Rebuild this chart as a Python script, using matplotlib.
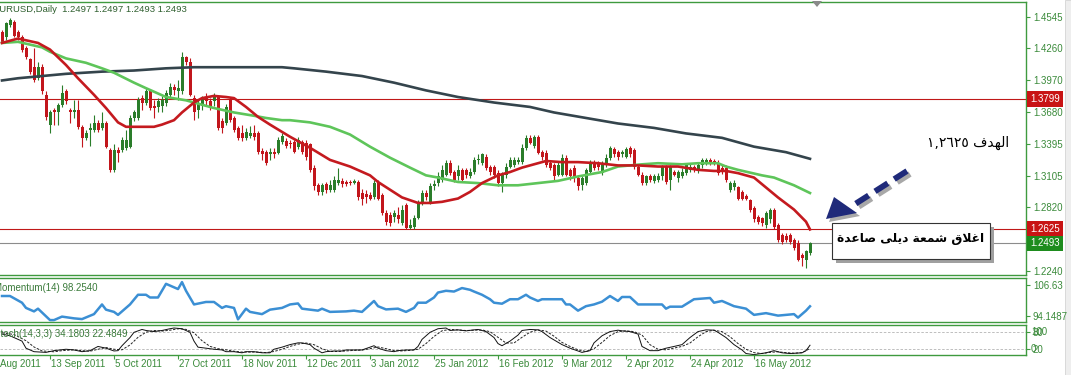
import numpy as np
import matplotlib
matplotlib.use('Agg')
import matplotlib.pyplot as plt
import matplotlib.transforms as mtransforms
from matplotlib.patches import Rectangle, Polygon
from matplotlib.lines import Line2D

plt.rcParams['font.family'] = ['Liberation Sans', 'DejaVu Sans']

# ---- EURUSD daily candles (one per bar) ----
opens = [1.441, 1.436, 1.447, 1.450, 1.441, 1.436, 1.426, 1.416, 1.409, 1.399,
         1.409, 1.384, 1.357, 1.370, 1.368, 1.375, 1.387, 1.370, 1.368, 1.370,
         1.355, 1.345, 1.352, 1.352, 1.358, 1.354, 1.358, 1.334, 1.316, 1.334,
         1.334, 1.336, 1.337, 1.363, 1.363, 1.381, 1.377, 1.387, 1.374, 1.373,
         1.374, 1.377, 1.384, 1.391, 1.387, 1.387, 1.418, 1.414, 1.381, 1.370,
         1.374, 1.382, 1.378, 1.378, 1.382, 1.360, 1.358, 1.379, 1.363, 1.354,
         1.349, 1.345, 1.347, 1.349, 1.349, 1.333, 1.332, 1.330, 1.332, 1.331,
         1.341, 1.342, 1.340, 1.341, 1.337, 1.341, 1.340, 1.339, 1.318, 1.302,
         1.296, 1.303, 1.298, 1.298, 1.304, 1.306, 1.305, 1.305, 1.304, 1.305,
         1.295, 1.294, 1.293, 1.291, 1.304, 1.293, 1.277, 1.275, 1.273, 1.275,
         1.268, 1.284, 1.263, 1.264, 1.272, 1.286, 1.295, 1.287, 1.301, 1.304,
         1.307, 1.311, 1.322, 1.314, 1.310, 1.316, 1.316, 1.310, 1.314, 1.325,
         1.322, 1.328, 1.319, 1.319, 1.313, 1.304, 1.311, 1.319, 1.320, 1.323,
         1.323, 1.336, 1.345, 1.338, 1.346, 1.332, 1.331, 1.322, 1.320, 1.311,
         1.311, 1.327, 1.316, 1.318, 1.309, 1.302, 1.304, 1.314, 1.323, 1.322,
         1.313, 1.320, 1.327, 1.335, 1.332, 1.330, 1.328, 1.336, 1.334, 1.319,
         1.311, 1.304, 1.310, 1.306, 1.307, 1.310, 1.319, 1.307, 1.314, 1.309,
         1.310, 1.313, 1.316, 1.319, 1.315, 1.320, 1.323, 1.325, 1.324, 1.322,
         1.318, 1.318, 1.298, 1.300, 1.300, 1.296, 1.292, 1.289, 1.281, 1.273,
         1.272, 1.266, 1.271, 1.280, 1.266, 1.257, 1.256, 1.257, 1.252, 1.250,
         1.239, 1.234, 1.241]
closes = [1.432, 1.449, 1.452, 1.437, 1.436, 1.425, 1.418, 1.405, 1.397, 1.409,
          1.387, 1.364, 1.368, 1.368, 1.375, 1.386, 1.378, 1.368, 1.370, 1.355,
          1.345, 1.349, 1.354, 1.358, 1.352, 1.358, 1.337, 1.316, 1.334, 1.331,
          1.343, 1.343, 1.363, 1.368, 1.379, 1.377, 1.387, 1.372, 1.372, 1.378,
          1.379, 1.386, 1.391, 1.388, 1.390, 1.418, 1.414, 1.384, 1.368, 1.377,
          1.379, 1.378, 1.374, 1.382, 1.354, 1.354, 1.373, 1.361, 1.352, 1.345,
          1.345, 1.350, 1.349, 1.346, 1.332, 1.330, 1.322, 1.332, 1.330, 1.343,
          1.347, 1.338, 1.339, 1.332, 1.343, 1.332, 1.328, 1.316, 1.301, 1.296,
          1.302, 1.298, 1.302, 1.307, 1.307, 1.303, 1.303, 1.304, 1.306, 1.291,
          1.290, 1.291, 1.290, 1.304, 1.290, 1.277, 1.269, 1.268, 1.277, 1.271,
          1.280, 1.263, 1.266, 1.272, 1.286, 1.295, 1.291, 1.301, 1.303, 1.310,
          1.316, 1.322, 1.313, 1.307, 1.316, 1.307, 1.311, 1.314, 1.325, 1.326,
          1.330, 1.318, 1.314, 1.311, 1.304, 1.311, 1.319, 1.325, 1.325, 1.325,
          1.336, 1.345, 1.340, 1.346, 1.331, 1.328, 1.320, 1.318, 1.310, 1.320,
          1.327, 1.311, 1.310, 1.309, 1.301, 1.309, 1.316, 1.323, 1.318, 1.319,
          1.322, 1.327, 1.336, 1.330, 1.328, 1.332, 1.335, 1.330, 1.319, 1.311,
          1.304, 1.310, 1.307, 1.310, 1.310, 1.319, 1.305, 1.319, 1.311, 1.314,
          1.314, 1.320, 1.319, 1.316, 1.320, 1.325, 1.325, 1.322, 1.321, 1.313,
          1.314, 1.307, 1.304, 1.304, 1.290, 1.290, 1.290, 1.280, 1.271, 1.269,
          1.268, 1.277, 1.280, 1.264, 1.252, 1.251, 1.252, 1.251, 1.245, 1.234,
          1.236, 1.242, 1.2493]
highs = [1.443, 1.450, 1.454, 1.452, 1.443, 1.438, 1.428, 1.417, 1.426, 1.414,
         1.412, 1.387, 1.370, 1.372, 1.377, 1.393, 1.389, 1.372, 1.379, 1.379,
         1.357, 1.352, 1.358, 1.366, 1.361, 1.368, 1.360, 1.336, 1.339, 1.337,
         1.346, 1.352, 1.366, 1.370, 1.382, 1.384, 1.390, 1.388, 1.379, 1.381,
         1.383, 1.388, 1.395, 1.394, 1.397, 1.423, 1.419, 1.417, 1.384, 1.379,
         1.383, 1.386, 1.381, 1.386, 1.384, 1.363, 1.376, 1.382, 1.365, 1.356,
         1.357, 1.354, 1.356, 1.357, 1.351, 1.336, 1.334, 1.336, 1.336, 1.346,
         1.349, 1.345, 1.343, 1.343, 1.346, 1.343, 1.343, 1.340, 1.320, 1.304,
         1.304, 1.305, 1.307, 1.310, 1.318, 1.309, 1.307, 1.307, 1.308, 1.307,
         1.299, 1.298, 1.296, 1.307, 1.307, 1.295, 1.280, 1.278, 1.280, 1.282,
         1.284, 1.286, 1.271, 1.275, 1.289, 1.298, 1.298, 1.304, 1.307, 1.314,
         1.320, 1.325, 1.325, 1.316, 1.320, 1.318, 1.318, 1.318, 1.328, 1.330,
         1.331, 1.330, 1.320, 1.320, 1.316, 1.314, 1.322, 1.328, 1.328, 1.328,
         1.339, 1.348, 1.348, 1.348, 1.348, 1.334, 1.334, 1.325, 1.322, 1.323,
         1.330, 1.329, 1.318, 1.320, 1.311, 1.310, 1.318, 1.325, 1.325, 1.324,
         1.324, 1.330, 1.338, 1.337, 1.334, 1.334, 1.337, 1.338, 1.336, 1.320,
         1.314, 1.311, 1.312, 1.312, 1.313, 1.320, 1.320, 1.320, 1.316, 1.316,
         1.318, 1.322, 1.322, 1.320, 1.322, 1.327, 1.327, 1.327, 1.326, 1.325,
         1.320, 1.320, 1.306, 1.307, 1.301, 1.298, 1.294, 1.290, 1.283, 1.275,
         1.273, 1.279, 1.281, 1.281, 1.268, 1.259, 1.259, 1.259, 1.254, 1.252,
         1.241, 1.243, 1.251]
lows = [1.431, 1.434, 1.445, 1.436, 1.434, 1.423, 1.416, 1.403, 1.396, 1.397,
        1.385, 1.361, 1.349, 1.357, 1.357, 1.373, 1.376, 1.358, 1.363, 1.353,
        1.337, 1.343, 1.338, 1.350, 1.350, 1.352, 1.336, 1.314, 1.314, 1.323,
        1.332, 1.334, 1.336, 1.360, 1.361, 1.370, 1.375, 1.370, 1.363, 1.368,
        1.368, 1.374, 1.382, 1.384, 1.379, 1.385, 1.411, 1.383, 1.361, 1.363,
        1.370, 1.374, 1.370, 1.374, 1.352, 1.349, 1.357, 1.359, 1.350, 1.343,
        1.342, 1.343, 1.345, 1.343, 1.330, 1.325, 1.320, 1.325, 1.327, 1.330,
        1.339, 1.336, 1.336, 1.331, 1.335, 1.330, 1.325, 1.314, 1.298, 1.293,
        1.293, 1.295, 1.296, 1.296, 1.302, 1.300, 1.301, 1.302, 1.303, 1.289,
        1.284, 1.286, 1.289, 1.290, 1.289, 1.275, 1.266, 1.265, 1.269, 1.268,
        1.266, 1.262, 1.262, 1.262, 1.271, 1.284, 1.289, 1.285, 1.298, 1.301,
        1.305, 1.310, 1.311, 1.305, 1.307, 1.305, 1.309, 1.309, 1.312, 1.321,
        1.320, 1.316, 1.311, 1.309, 1.301, 1.296, 1.309, 1.318, 1.319, 1.321,
        1.321, 1.334, 1.339, 1.336, 1.330, 1.325, 1.319, 1.316, 1.307, 1.310,
        1.310, 1.310, 1.307, 1.305, 1.298, 1.298, 1.302, 1.312, 1.316, 1.316,
        1.311, 1.319, 1.325, 1.328, 1.325, 1.328, 1.327, 1.328, 1.317, 1.310,
        1.302, 1.302, 1.305, 1.304, 1.305, 1.307, 1.303, 1.298, 1.310, 1.305,
        1.309, 1.311, 1.314, 1.314, 1.313, 1.318, 1.320, 1.320, 1.320, 1.311,
        1.312, 1.305, 1.296, 1.298, 1.289, 1.289, 1.289, 1.278, 1.269, 1.267,
        1.265, 1.263, 1.268, 1.262, 1.251, 1.249, 1.251, 1.249, 1.243, 1.233,
        1.229, 1.227, 1.239]

# moving averages, read at sample bars
red_idx = [0, 4, 9, 12, 16, 19, 23, 26, 29, 31, 34, 38, 40, 43, 45, 48, 50, 53, 56, 58,
           61, 64, 67, 72, 77, 82, 87, 92, 94, 97, 100, 104, 107, 110, 114, 117, 120, 124,
           127, 130, 134, 136, 140, 144, 149, 154, 159, 164, 169, 174, 178, 181, 184, 188,
           191, 194, 198, 201, 202]
red_ma = [1.431, 1.435, 1.431, 1.425, 1.411, 1.399, 1.384, 1.372, 1.359, 1.355,
          1.355, 1.355, 1.357, 1.361, 1.368, 1.377, 1.381, 1.383, 1.382, 1.381,
          1.373, 1.364, 1.357, 1.346, 1.336, 1.325, 1.319, 1.311, 1.305, 1.298,
          1.291, 1.286, 1.286, 1.287, 1.290, 1.296, 1.304, 1.311, 1.314, 1.318,
          1.322, 1.324, 1.323, 1.323, 1.322, 1.320, 1.320, 1.319, 1.319, 1.316,
          1.315, 1.315, 1.313, 1.309, 1.300, 1.291, 1.280, 1.269, 1.262]
green_idx = [0, 4, 10, 12, 16, 21, 25, 28, 33, 36, 41, 46, 50, 53, 58, 63, 66, 70, 72, 77,
             82, 87, 92, 97, 102, 106, 109, 114, 119, 124, 129, 134, 139, 144, 150, 154,
             160, 164, 170, 174, 179, 181, 184, 190, 193, 198, 202]
green_ma = [1.431, 1.432, 1.427, 1.423, 1.417, 1.413, 1.408, 1.404, 1.395, 1.390,
            1.382, 1.379, 1.375, 1.372, 1.368, 1.365, 1.363, 1.361, 1.361, 1.359,
            1.355, 1.348, 1.337, 1.327, 1.318, 1.311, 1.309, 1.305, 1.304, 1.302,
            1.302, 1.304, 1.306, 1.310, 1.314, 1.319, 1.321, 1.322, 1.321, 1.322,
            1.322, 1.319, 1.316, 1.311, 1.309, 1.302, 1.295]
dark_idx = [0, 4, 10, 16, 25, 33, 41, 48, 58, 64, 70, 73, 81, 90, 98, 106, 114, 123, 132,
            138, 146, 154, 163, 171, 180, 188, 196, 202]
dark_ma = [1.397, 1.399, 1.401, 1.403, 1.405, 1.406, 1.408, 1.409, 1.409, 1.409,
           1.409, 1.408, 1.405, 1.401, 1.395, 1.388, 1.382, 1.377, 1.373, 1.368,
           1.363, 1.358, 1.354, 1.349, 1.345, 1.337, 1.332, 1.326]

# Momentum(14)
mom_idx = [0, 2, 5, 6, 8, 9, 12, 13, 15, 18,
           20, 23, 25, 26, 28, 29, 32, 34, 36, 37,
           39, 41, 43, 44, 45, 46, 48, 51, 53, 55,
           56, 58, 59, 61, 62, 65, 67, 70, 72, 74,
           75, 79, 80, 82, 86, 88, 90, 93, 94, 96,
           99, 101, 103, 104, 106, 108, 109, 111, 113, 115,
           117, 118, 120, 122, 123, 125, 127, 129, 131, 132,
           134, 135, 140, 141, 142, 144, 146, 148, 150, 152,
           154, 155, 157, 159, 161, 165, 166, 167, 170, 173,
           177, 178, 180, 182, 183, 186, 188, 191, 194, 198,
           199, 201, 202]
mom_vals = [102.4, 102.4, 99.7, 97.6, 96.2, 97.3, 92.7, 92.7, 94.1, 93.4,
            93.1, 95.1, 99.0, 96.9, 96.0, 94.8, 99.0, 102.9, 102.9, 101.8,
            101.8, 107.3, 105.9, 105.2, 108.0, 104.5, 99.0, 100.0, 100.0, 97.6,
            98.3, 97.6, 93.0, 97.3, 96.0, 95.1, 96.9, 97.6, 99.0, 99.4,
            97.3, 96.5, 97.3, 96.0, 96.2, 96.5, 96.0, 100.4, 98.3, 97.0,
            97.3, 96.0, 97.6, 99.7, 99.7, 101.8, 103.8, 104.5, 104.2, 105.6,
            104.9, 104.2, 102.9, 101.1, 99.7, 99.3, 101.1, 101.1, 102.9, 101.8,
            100.4, 101.1, 101.1, 99.0, 99.0, 96.5, 98.3, 99.0, 100.1, 102.4,
            100.4, 102.0, 102.0, 99.0, 99.0, 99.0, 97.3, 98.1, 98.1, 101.1,
            101.6, 99.7, 100.4, 99.0, 98.3, 97.3, 94.8, 95.5, 94.5, 95.1,
            93.7, 96.5, 98.25]

# Stochastic(14,3,3): main and signal
st_idx = [0, 2, 5, 6, 8, 11, 13, 16, 18, 20,
          22, 24, 26, 28, 29, 30, 32, 33, 35, 36,
          38, 40, 42, 43, 45, 47, 48, 49, 51, 53,
          55, 56, 58, 60, 61, 63, 65, 67, 68, 70,
          72, 74, 75, 77, 78, 80, 81, 83, 85, 86,
          88, 90, 92, 93, 94, 96, 98, 99, 101, 103,
          104, 105, 107, 109, 111, 112, 114, 116, 118, 119,
          121, 123, 124, 125, 127, 129, 130, 132, 134, 135,
          137, 140, 142, 145, 147, 148, 150, 152, 154, 155,
          157, 159, 160, 162, 164, 166, 168, 170, 172, 174,
          176, 178, 179, 181, 183, 185, 186, 188, 191, 193,
          195, 197, 200, 201, 202]
st_main = [73.5, 67.4, 48.6, 23.7, 11.4, 8.9, 15.0, 20.0, 17.5, 11.4,
           15.0, 29.8, 23.7, 13.9, 15.0, 32.4, 61.2, 79.6, 89.7, 86.1,
           82.2, 86.1, 92.3, 94.8, 92.3, 79.6, 48.6, 27.3, 23.7, 20.0,
           17.5, 11.4, 11.4, 7.4, 11.4, 11.4, 7.4, 7.4, 20.0, 27.3,
           36.3, 42.5, 42.5, 36.3, 23.7, 7.4, 11.4, 13.9, 13.9, 17.5,
           17.5, 17.5, 27.3, 32.4, 23.7, 15.0, 11.4, 15.0, 17.5, 17.5,
           29.8, 54.7, 79.6, 92.3, 94.8, 86.1, 88.3, 84.7, 88.3, 89.7,
           82.2, 61.2, 39.9, 32.4, 48.6, 69.9, 86.1, 89.7, 88.3, 82.2,
           61.2, 36.3, 23.7, 8.9, 15.0, 42.5, 67.4, 82.2, 87.2, 84.7,
           82.2, 73.5, 29.8, 15.0, 15.0, 23.7, 29.8, 36.3, 61.2, 82.2,
           88.3, 87.2, 79.6, 61.2, 36.3, 17.5, 4.9, 1.0, 7.4, 15.0,
           7.4, 4.9, 7.4, 15.0, 34.18]
sig_idx = [0, 3, 6, 8, 10, 13, 15, 18, 20, 22,
           24, 26, 28, 30, 32, 34, 36, 38, 40, 42,
           44, 46, 48, 50, 52, 54, 56, 58, 60, 62,
           64, 66, 68, 70, 72, 74, 76, 78, 80, 82,
           84, 86, 88, 90, 92, 94, 96, 98, 100, 102,
           104, 106, 108, 110, 112, 114, 116, 118, 120, 122,
           124, 126, 128, 130, 132, 134, 136, 138, 140, 142,
           144, 146, 148, 150, 152, 154, 156, 158, 160, 162,
           164, 166, 168, 170, 172, 174, 176, 178, 180, 182,
           184, 186, 188, 190, 192, 194, 196, 198, 200, 202]
st_signal = [78, 72, 50, 28, 14, 11, 15, 18, 15, 13,
             20, 26, 20, 18, 35, 62, 80, 86, 84, 87,
             92, 90, 78, 50, 30, 22, 18, 13, 10, 10,
             10, 8, 12, 20, 30, 38, 42, 36, 22, 12,
             12, 14, 16, 17, 22, 28, 22, 15, 14, 16,
             20, 40, 65, 85, 90, 88, 86, 87, 88, 82,
             62, 42, 42, 62, 80, 88, 84, 66, 44, 30,
             18, 12, 22, 44, 68, 82, 85, 82, 70, 36,
             20, 18, 24, 30, 42, 64, 82, 87, 82, 64,
             40, 20, 8, 5, 9, 11, 8, 6, 8, 22.48]

price_ticks = [1.4545, 1.4260, 1.3970, 1.3680, 1.3395, 1.3105, 1.2820, 1.2530, 1.2240]
line_levels = [1.3799, 1.2625]
last_price = 1.2493
date_labels = ['22 Aug 2011', '13 Sep 2011', '5 Oct 2011', '27 Oct 2011', '18 Nov 2011',
               '12 Dec 2011', '3 Jan 2012', '25 Jan 2012', '16 Feb 2012', '9 Mar 2012',
               '2 Apr 2012', '24 Apr 2012', '16 May 2012']

W, H = 1071, 375
FRAME = '#3f9a3f'
LABEL = '#3a8a3a'
UP = '#2a7d2a'
DOWN = '#c2161c'
NAVY = '#1f2a7a'

fig = plt.figure(figsize=(W / 100, H / 100), dpi=100)
fig.patch.set_facecolor('white')


def panel(top, bottom):
    ax = fig.add_axes([0, 1 - bottom / H, 1026 / W, (bottom - top) / H])
    ax.set_xlim(-0.5, 256)
    for side in ('top', 'bottom', 'right'):
        ax.spines[side].set_color(FRAME)
        ax.spines[side].set_linewidth(1.0)
    ax.spines['left'].set_visible(False)
    ax.yaxis.tick_right()
    ax.tick_params(axis='y', length=3, width=0.8, color=FRAME, labelcolor=LABEL,
                   labelsize=7, pad=2)
    ax.tick_params(axis='x', bottom=False, labelbottom=False)
    return ax


def fxy(x, y):
    # figure pixel -> figure fraction
    return x / W, 1 - y / H


# light strip at the far right edge, kept behind the axis labels
fig.add_artist(Rectangle(fxy(1065, 375), 6 / W, 1, transform=fig.transFigure,
                         fc='#eeeeee', ec='#d4d4d4', lw=0.6, zorder=-1))

# ---- price panel ----
ax = panel(2, 275)
ax.set_ylim(1.2207, 1.4681)

xs = np.arange(len(closes))
o, h, l, c = map(np.array, (opens, highs, lows, closes))
cols = np.where(c >= o, UP, DOWN)
ax.vlines(xs, l, h, colors=cols, lw=0.8, zorder=3)
ax.bar(xs, np.maximum(np.abs(c - o), 0.0006), bottom=np.minimum(o, c), width=0.75,
       color=cols, linewidth=0, zorder=3)

ax.plot(dark_idx, dark_ma, color='#34444c', lw=1.9, zorder=4)
ax.plot(green_idx, green_ma, color='#5ec55a', lw=1.9, zorder=4)
ax.plot(red_idx, red_ma, color='#c41a1f', lw=1.9, zorder=4)

for lv in line_levels:
    ax.axhline(lv, color='#c01818', lw=0.8, zorder=2)
ax.axhline(last_price, color='#8c8c8c', lw=0.8, zorder=2)

ax.set_yticks(price_ticks)
ax.set_yticklabels(['%.4f' % v for v in price_ticks])


def tag(val, fc):
    ax.text(1 + 4 / 1026, val, '%.4f' % val, transform=ax.get_yaxis_transform(),
            ha='left', va='center', fontsize=7, color='white', zorder=6, clip_on=False,
            bbox=dict(boxstyle='square,pad=0.3', fc=fc, ec='none'))


for lv in line_levels:
    tag(lv, '#c81414')
tag(last_price, '#1e8c1e')

# shift marker
fig.add_artist(Polygon([fxy(812, 1), fxy(822, 1), fxy(817, 7)], closed=True,
                       transform=fig.transFigure, fc='#8a8a8a', ec='none'))

fig.text(*fxy(-7, 10), 'EURUSD,Daily  1.2497 1.2497 1.2493 1.2493', fontsize=6.8,
         color='#2f5f2f', va='center', ha='left')

# ---- momentum panel ----
am = panel(278, 322)
am.set_ylim(91.93, 109.65)
am.plot(mom_idx, mom_vals, color='#3b8fd4', lw=1.8)
am.set_yticks([106.63, 94.1487])
am.set_yticklabels(['106.63', '94.1487'])
fig.text(*fxy(-6, 288), 'Momentum(14) 98.2540', fontsize=7, color='#3a7a3a',
         va='center', ha='left')

# ---- stochastic panel ----
ast = panel(325, 355)
ast.set_ylim(-0.3, 105.4)
for lv in (20, 80):
    ast.axhline(lv, color='#b4b4b4', lw=0.6, dashes=(3, 2))
ast.plot(sig_idx, st_signal, color='#222222', lw=0.7, dashes=(2.5, 1.5))
ast.plot(st_idx, st_main, color='#111111', lw=0.7)
ast.set_yticks([80, 20])
ast.set_yticklabels(['80', '20'])
for lv, s in ((80, '100'), (20, '0')):
    ast.text(1 + 5 / 1026, lv, s, transform=ast.get_yaxis_transform(), ha='left',
             va='center', fontsize=7, color=LABEL, clip_on=False)
fig.text(*fxy(-6, 334), 'Stoch(14,3,3) 34.1803 22.4849', fontsize=7, color='#3a7a3a',
         va='center', ha='left')

date_idx = [-4 + 16 * k for k in range(len(date_labels))]
ast.set_xticks([j for j in date_idx if j >= 0])
ast.tick_params(axis='x', bottom=True, length=3, width=0.8, color=FRAME, labelbottom=False)
blend = mtransforms.blended_transform_factory(ast.transData, ast.transAxes)
for j, lab in zip(date_idx, date_labels):
    ast.text(j + 0.3, -0.12, lab, transform=blend, ha='left', va='top', fontsize=7,
             color=LABEL, clip_on=False)

# ---- annotations ----
# dashed arrow with shadow
for dx, col in ((3, '#a8a8a8'), (0, NAVY)):
    fig.add_artist(Line2D([(907 + dx) / W, (852 + dx) / W],
                          [1 - (171 + dx) / H, 1 - (206 + dx) / H],
                          transform=fig.transFigure, color=col, lw=4.2, dashes=(2.6, 1.3),
                          solid_capstyle='butt'))
    fig.add_artist(Polygon([fxy(826 + dx, 219 + dx), fxy(834 + dx, 197 + dx),
                            fxy(857 + dx, 213 + dx)], closed=True,
                           transform=fig.transFigure, fc=col, ec='none'))

# text box
fig.add_artist(Rectangle(fxy(836, 263), 158 / W, 36 / H, transform=fig.transFigure,
                         fc='#a0a0a0', ec='none'))
fig.add_artist(Rectangle(fxy(832, 259), 158 / W, 36 / H, transform=fig.transFigure,
                         fc='white', ec='#333333', lw=0.8))

box_text = ('\uFE93\uFEAA\uFECB\uFE8E\uFEBB \uFEF0\uFEE0\uFEF3\uFEA9 '
            '\uFE94\uFECC\uFEE4\uFEB7 \uFED5\uFEFC\uFECF\uFE8D')
fig.text(*fxy(911, 238), box_text, family='DejaVu Sans', fontweight='bold', fontsize=8.8,
         color='black', ha='center', va='center')

target_text = '\u0661,\u0662\u0666\u0662\u0665 \uFED1\uFEAA\uFEEC\uFEDF\uFE8D'
fig.text(*fxy(968, 143), target_text, family='DejaVu Sans', fontsize=10,
         color='black', ha='center', va='center')

fig.savefig('out.png', dpi=100, facecolor='white')
